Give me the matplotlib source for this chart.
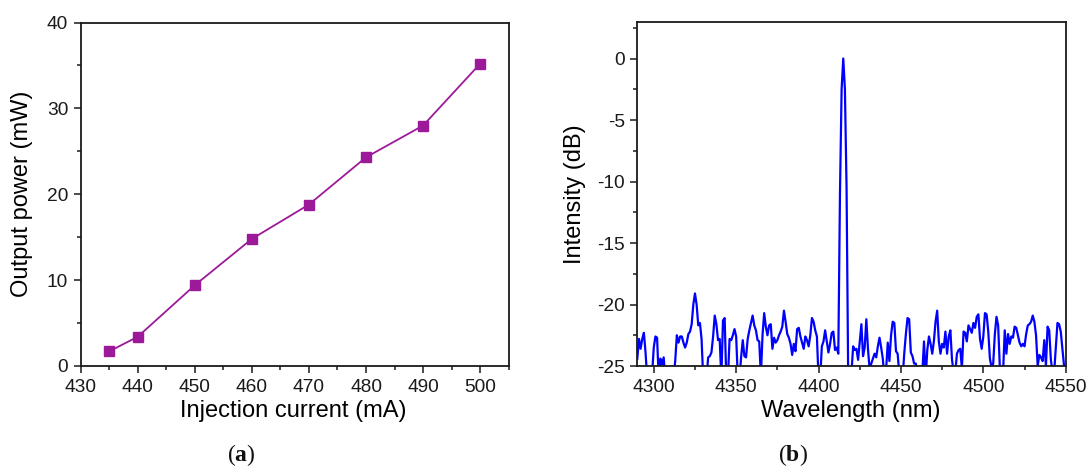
import numpy as np
import matplotlib
matplotlib.use("Agg")
import matplotlib.pyplot as plt
from matplotlib.ticker import MultipleLocator

plt.rcParams['font.family'] = ['Liberation Sans', 'DejaVu Sans']
plt.rcParams['axes.unicode_minus'] = False
plt.rcParams['mathtext.fontset'] = 'custom'
plt.rcParams['mathtext.rm'] = 'Liberation Serif'
plt.rcParams['mathtext.bf'] = 'Liberation Serif:bold'

# (a) output power versus injection current
current_mA = [435, 440, 450, 460, 470, 480, 490, 500]
power_mW = [1.7, 3.4, 9.4, 14.8, 18.8, 24.3, 28.0, 35.2]

# (b) emission spectrum, 1 nm sampling from 4290 nm to 4550 nm
wavelength_nm = np.arange(4290, 4551, 1)
intensity_dB = [
    -24.4, -22.8, -23.6, -22.8, -22.3, -23.9, -26.0, -26.5, -26.5, -25.6,
    -23.5, -22.6, -22.7, -26.0, -24.4, -24.9, -24.3, -26.0, -26.5, -26.5,
    -26.5, -26.5, -26.0, -24.6, -22.5, -23.1, -22.6, -22.6, -23.1, -23.5,
    -23.1, -22.4, -22.2, -21.6, -20.0, -19.1, -20.0, -21.7, -21.5, -22.8,
    -26.0, -26.5, -26.0, -24.3, -24.2, -23.9, -22.6, -20.9, -21.6, -22.9,
    -22.8, -26.0, -21.3, -21.1, -26.0, -26.0, -22.8, -22.9, -22.5, -22.0,
    -22.6, -26.0, -26.0, -24.3, -22.9, -24.2, -24.3, -22.8, -22.1, -21.5,
    -20.9, -21.7, -22.1, -22.9, -23.0, -25.8, -22.5, -20.7, -21.8, -22.5,
    -21.7, -21.6, -23.6, -22.7, -23.1, -22.9, -22.5, -22.2, -21.8, -20.5,
    -21.4, -22.4, -22.7, -23.2, -24.1, -23.2, -23.8, -22.0, -21.9, -22.6,
    -23.1, -23.6, -22.6, -22.9, -23.4, -22.5, -21.1, -21.4, -22.1, -22.6,
    -26.0, -26.0, -23.4, -23.0, -22.1, -23.0, -23.9, -23.2, -22.3, -22.2,
    -23.7, -23.5, -24.0, -11.0, -2.5, 0.0, -2.5, -10.5, -26.0, -26.5,
    -25.5, -23.4, -23.7, -23.6, -24.5, -23.0, -21.6, -24.2, -23.5, -21.2,
    -23.6, -25.3, -24.8, -24.4, -24.0, -24.3, -23.4, -22.7, -23.5, -24.4,
    -26.0, -25.3, -23.1, -24.6, -22.5, -21.4, -21.5, -23.8, -24.0, -25.6,
    -26.5, -26.0, -24.0, -22.4, -21.1, -21.2, -23.9, -24.2, -24.8, -24.8,
    -25.5, -25.5, -25.3, -25.5, -23.0, -26.0, -23.7, -22.6, -23.2, -24.0,
    -23.0, -21.4, -20.5, -23.0, -24.0, -23.2, -23.5, -22.2, -24.0, -22.6,
    -22.1, -24.5, -25.5, -25.5, -24.0, -23.7, -23.6, -25.2, -22.2, -22.3,
    -23.0, -21.7, -22.0, -22.3, -21.5, -21.9, -21.0, -20.8, -22.8, -23.6,
    -22.6, -20.7, -20.8, -22.2, -24.4, -25.1, -24.8, -22.4, -21.0, -21.7,
    -25.0, -25.5, -25.5, -22.1, -24.0, -22.4, -23.2, -22.6, -22.7, -21.8,
    -21.9, -22.5, -23.1, -23.4, -23.2, -23.4, -22.4, -21.7, -21.6, -21.4,
    -20.9, -21.4, -22.5, -25.0, -24.1, -24.3, -24.6, -22.9, -25.0, -21.8,
    -22.1, -24.5, -25.5, -25.5, -23.5, -21.5, -21.6, -22.2, -23.6, -25.0,
    -25.5,
]

W, H = 1089, 468
fig = plt.figure(figsize=(W / 100, H / 100), dpi=100)

def frac_axes(x0, x1, y0, y1):
    return fig.add_axes([x0 / W, 1 - y1 / H, (x1 - x0) / W, (y1 - y0) / H])

ax1 = frac_axes(80.6, 508.7, 22.5, 366)
ax2 = frac_axes(637.3, 1065.7, 21.6, 366)

spine_col = '#1a1a1a'
tick_fs = 13.8
label_fs = 17

for ax in (ax1, ax2):
    for s in ax.spines.values():
        s.set_linewidth(1.3)
        s.set_color(spine_col)
    ax.tick_params(which='both', direction='out', top=False, right=False,
                   color=spine_col, width=1.1, labelsize=tick_fs,
                   labelcolor='#1a1a1a')
    ax.tick_params(which='major', length=5, pad=4)
    ax.tick_params(which='minor', length=3)

# Panel (a)
ax1.plot(current_mA, power_mW, color='#9C1A9A', lw=1.3, marker='s',
         markersize=6.5, markerfacecolor='#9C1A9A', markeredgecolor='#9C1A9A')
ax1.set_xlim(430, 505)
ax1.set_ylim(0, 40)
ax1.xaxis.set_major_locator(MultipleLocator(10))
ax1.xaxis.set_minor_locator(MultipleLocator(5))
ax1.yaxis.set_major_locator(MultipleLocator(10))
ax1.yaxis.set_minor_locator(MultipleLocator(5))
ax1.set_xlabel('Injection current (mA)', fontsize=label_fs, va='center')
ax1.set_ylabel('Output power (mW)', fontsize=label_fs, va='center')
ax1.xaxis.set_label_coords((293 - 80.6) / (508.7 - 80.6), (366 - 411) / (366 - 22.5))
ax1.yaxis.set_label_coords((22 - 80.6) / (508.7 - 80.6), 0.5)

# Panel (b)
ax2.plot(wavelength_nm, intensity_dB, color='#0000FF', lw=1.6)
ax2.set_xlim(4290, 4550)
ax2.set_ylim(-25, 3)
ax2.xaxis.set_major_locator(MultipleLocator(50))
ax2.xaxis.set_minor_locator(MultipleLocator(25))
ax2.yaxis.set_major_locator(MultipleLocator(5))
ax2.yaxis.set_minor_locator(MultipleLocator(2.5))
ax2.set_xlabel('Wavelength (nm)', fontsize=label_fs, va='center')
ax2.set_ylabel('Intensity (dB)', fontsize=label_fs, va='center')
ax2.xaxis.set_label_coords((851 - 637.3) / (1065.7 - 637.3), (366 - 411) / (366 - 21.6))
ax2.yaxis.set_label_coords((575 - 637.3) / (1065.7 - 637.3), 0.5)

# Panel captions
fig.text(241 / W, 1 - 455 / H, r'$\mathrm{(}\mathbf{a}\mathrm{)}$',
         fontsize=17, ha='center', va='center', color='#111111')
fig.text(793 / W, 1 - 455 / H, r'$\mathrm{(}\mathbf{b}\mathrm{)}$',
         fontsize=17, ha='center', va='center', color='#111111')

fig.savefig('out.png', dpi=100)
